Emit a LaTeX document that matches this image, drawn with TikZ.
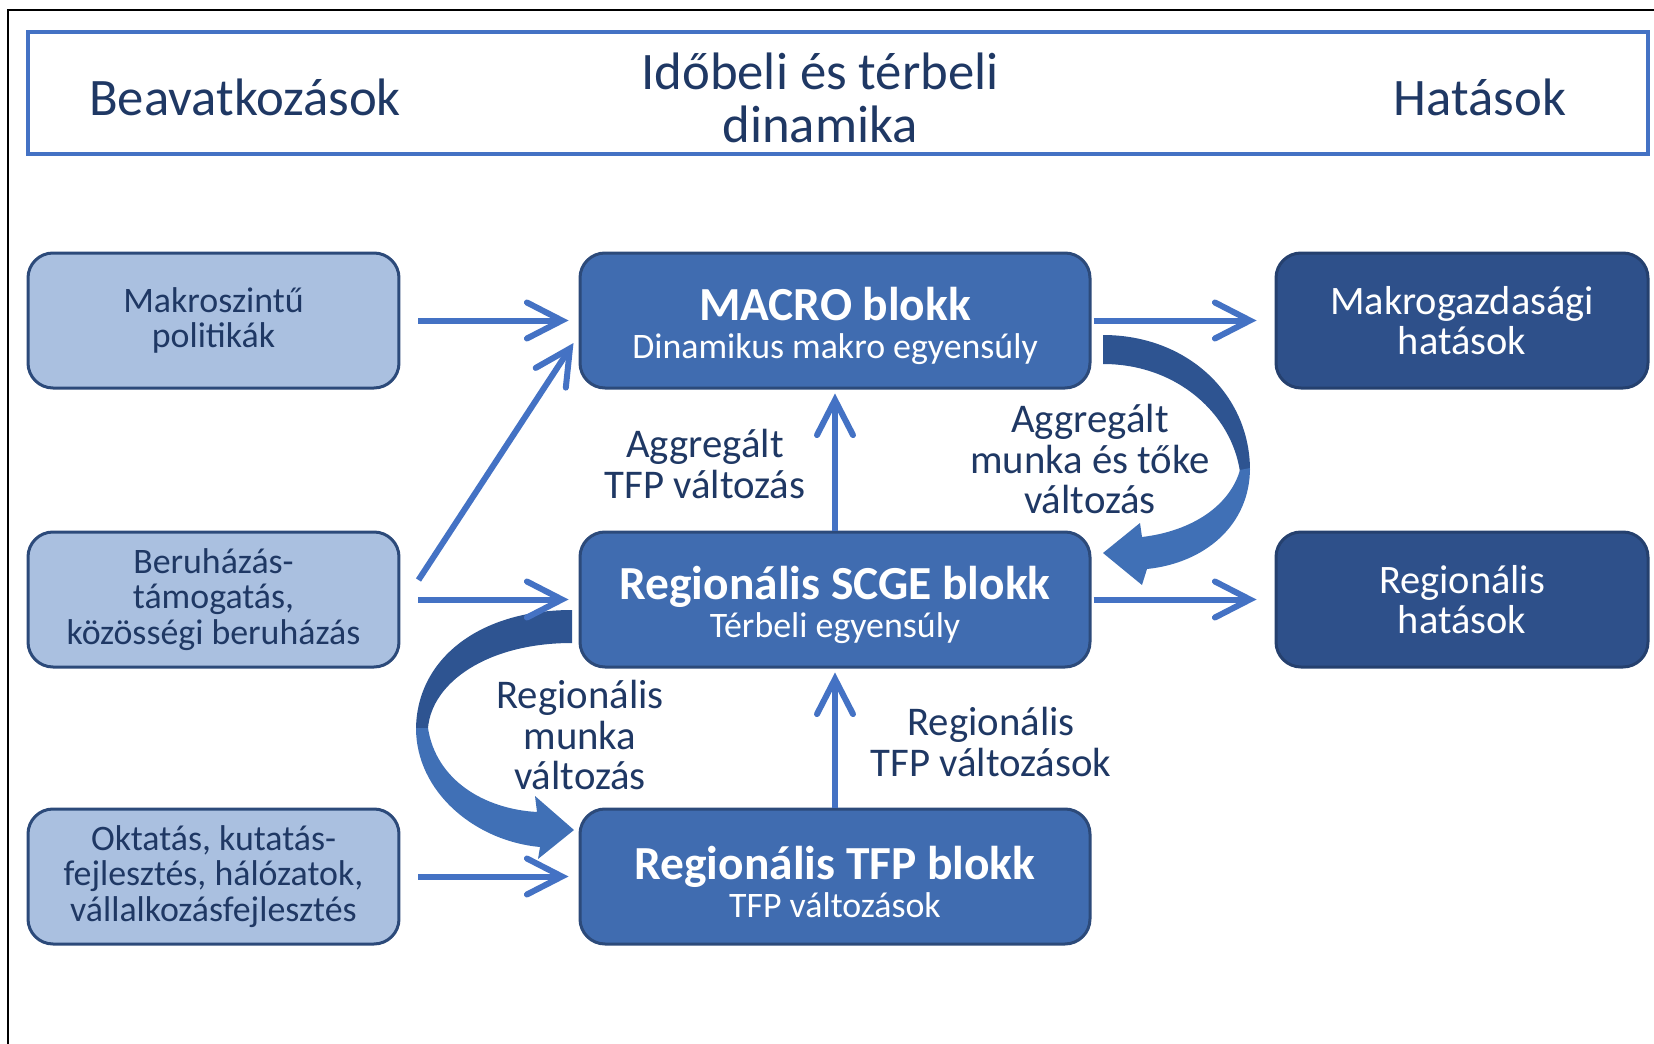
\documentclass[tikz,border=0pt]{standalone}
\usepackage{fontspec}
\setmainfont{Carlito}
\usetikzlibrary{arrows.meta,calc}

\definecolor{textblue}{RGB}{31,56,100}
\definecolor{boxline}{RGB}{44,74,122}
\definecolor{lightfill}{RGB}{170,192,224}
\definecolor{midfill}{RGB}{64,108,176}
\definecolor{darkfill}{RGB}{46,80,138}
\definecolor{arrowblue}{RGB}{68,114,196}
\definecolor{curvedark}{RGB}{46,84,145}
\definecolor{curvelight}{RGB}{64,112,182}

\tikzset{
  inbox/.style={draw=boxline, line width=0.3mm, fill=lightfill, rounded corners=2.5mm,
    minimum width=37.1mm, minimum height=13.5mm, align=center, text=textblue,
    font=\fontsize{10.2}{10}\selectfont},
  blokk/.style={inbox, fill=midfill, minimum width=51mm, text=white,
    font=\fontsize{10.2}{11}\selectfont},
  outbox/.style={inbox, draw=darkfill!80!black, fill=darkfill, minimum width=37.2mm, text=white,
    font=\fontsize{11.5}{11.4}\selectfont},
  lbl/.style={align=center, text=textblue, font=\fontsize{11.6}{11.4}\selectfont},
  flow/.style={draw=arrowblue, line width=0.6mm,
    -{Straight Barb[length=3.5mm,width=3.6mm,line cap=round]}}
}
\newcommand{\blokktitle}[1]{\rule{0pt}{12.5pt}{\fontsize{13.5}{14}\selectfont\bfseries #1}}

\begin{document}
\begin{tikzpicture}[x=0.1mm, y=-0.1mm]
  \useasboundingbox (0,0) rectangle (1654,1044);
  % frame
  \draw[line width=0.25mm] (8,1044) -- (8,10) -- (1654,10);
  % header
  \draw[draw=arrowblue, line width=0.4mm] (28,32) rectangle (1648,154);
  \node[text=textblue, font=\fontsize{15}{15}\selectfont] (beav) at (245,97) {Beavatkozások};
  \node[text=textblue, font=\fontsize{15}{15}\selectfont, align=center] (dinam) at (820,98) {Időbeli és térbeli\\dinamika};
  \node[text=textblue, font=\fontsize{15}{15}\selectfont] (hatas) at (1480,97) {Hatások};

  % interventions
  \node[inbox] (mpol)  at (213.5,320.5) {Makroszintű\\politikák};
  \node[inbox] (beruh) at (213.5,599.5) {Beruházás-\\támogatás,\\közösségi beruházás};
  \node[inbox] (oktat) at (213.5,876.5) {Oktatás, kutatás-\\fejlesztés, hálózatok,\\vállalkozásfejlesztés};

  % model blocks
  \node[blokk] (macro) at (835,320.5) {\blokktitle{MACRO blokk}\\Dinamikus makro egyensúly};
  \node[blokk] (scge)  at (835,599.5) {\blokktitle{Regionális SCGE blokk}\\Térbeli egyensúly};
  \node[blokk] (tfp)   at (835,876.5) {\blokktitle{Regionális TFP blokk}\\TFP változások};

  % effects
  \node[outbox] (mhat) at (1462,320.5) {Makrogazdasági\\hatások};
  \node[outbox] (rhat) at (1462,599.5) {Regionális\\hatások};

  % curved arrow: macro -> scge
  \fill[curvedark] (1103,335) .. controls (1188,335) and (1250,395) .. (1250,470)
    -- (1240,472) .. controls (1232,415) and (1178,364) .. (1103,364) -- cycle;
  \fill[curvelight] (1250,468) .. controls (1250,525) and (1205,563) .. (1147,569)
    -- (1142,585) -- (1103,553) -- (1140,523) -- (1142,537)
    .. controls (1193,531) and (1230,505) .. (1240,470) -- cycle;
  % curved arrow: scge -> tfp
  \fill[curvedark] (572,610) .. controls (478,610) and (416,660) .. (416,730)
    -- (428,728) .. controls (432,682) and (488,643) .. (572,643) -- cycle;
  \fill[curvelight] (416,728) .. controls (416,792) and (475,841) .. (540,847)
    -- (538,859) -- (574,830) -- (535,796) -- (537,812)
    .. controls (484,809) and (436,780) .. (428,728) -- cycle;

  % straight arrows
  \draw[flow, shorten <=1.8mm, shorten >=1mm] (mpol.east) -- (macro.west);
  \draw[flow] ($(beruh.east)+(18,-19.5)$) -- ($(macro.west)+(-5,22.5)$);
  \draw[flow, shorten <=1.8mm, shorten >=1mm] (beruh.east) -- (scge.west);
  \draw[flow, shorten <=1.8mm, shorten >=1mm] (oktat.east) -- (tfp.west);
  \draw[flow, shorten <=0.2mm, shorten >=1.8mm] (macro.east) -- (mhat.west);
  \draw[flow, shorten <=0.2mm, shorten >=1.8mm] (scge.east) -- (rhat.west);
  \draw[flow, shorten >=0.4mm] (scge.north) -- (macro.south);
  \draw[flow, shorten >=0.4mm] (tfp.north) -- (scge.south);

  % labels
  \node[lbl] (l1) at (705,464) {Aggregált\\TFP változás};
  \node[lbl] (l2) at (1090,459) {Aggregált\\munka és tőke\\változás};
  \node[lbl] (l3) at (580,735) {Regionális\\munka\\változás};
  \node[lbl] (l4) at (991,742) {Regionális\\TFP változások};
\end{tikzpicture}
\end{document}
